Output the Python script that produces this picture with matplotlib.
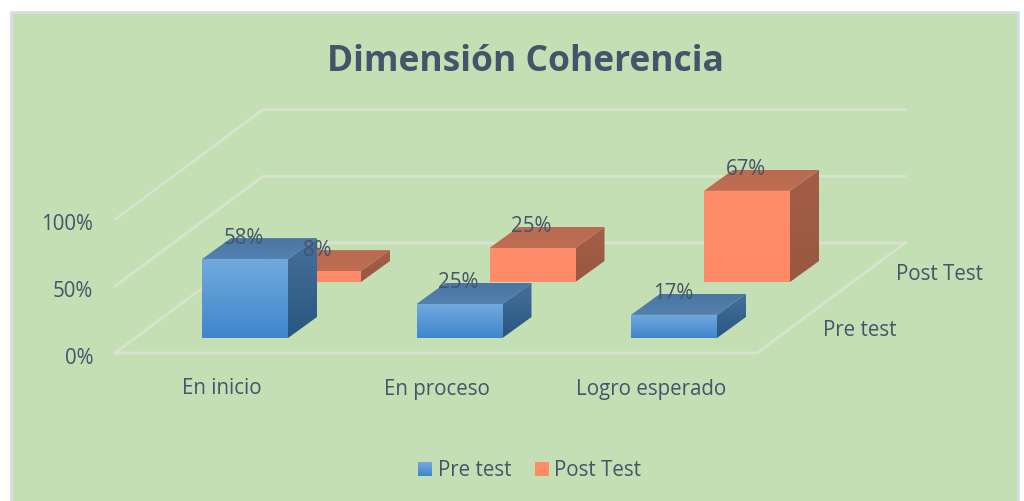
import numpy as np
import matplotlib
matplotlib.use('Agg')
import matplotlib.pyplot as plt
from matplotlib.patches import Polygon, Rectangle

categories = ['En inicio', 'En proceso', 'Logro esperado']
series_names = ['Pre test', 'Post Test']
pre_test = [58, 25, 17]
post_test = [8, 25, 67]
value_ticks = [0, 50, 100]

plt.rcParams['font.family'] = ['Open Sans', 'DejaVu Sans']

BG = '#C5DFB4'
GRID = '#D7E3CE'
TEXT = '#44546A'
FS = 14.8

# oblique projection of the 3d box, pixels of the picture
X0, Y0 = 115, 353
PX_PER_PCT = 1.36
CAT_STEP = 214.5
FIRST_BAR = 87
BAR_W = 86
ROW_DX, ROW_DY = 73, -56
ROW0_DX, ROW0_DY = 0, -15
DEPTH_DX, DEPTH_DY = 29, -21
FLOOR_W = 642
FLOOR_DX, FLOOR_DY = 148, -110
GRID_PX = 1.335


def project(x, row, val):
    # x in px along the front edge, row = series index, val in percent
    return (X0 + x + ROW0_DX + row * ROW_DX,
            Y0 + ROW0_DY + row * ROW_DY - val * PX_PER_PCT)


def gradient_poly(ax, pts, c_top, c_bot, zorder):
    pts = np.array(pts)
    x0, x1 = pts[:, 0].min(), pts[:, 0].max()
    y0, y1 = pts[:, 1].min(), pts[:, 1].max()
    t = np.linspace(0, 1, 64)[:, None]
    a = np.array(matplotlib.colors.to_rgb(c_top))
    b = np.array(matplotlib.colors.to_rgb(c_bot))
    img = (a + (b - a) * t)[:, None, :]
    im = ax.imshow(img, extent=(x0, x1, y1, y0), aspect='auto', zorder=zorder, interpolation='bilinear')
    p = Polygon(pts, closed=True, transform=ax.transData, fc='none', ec='none')
    ax.add_patch(p)
    im.set_clip_path(p)


def draw_bar(ax, x, row, val, cols, zorder):
    l = project(x, row, 0)[0]
    r = l + BAR_W
    bot = project(x, row, 0)[1]
    top = project(x, row, val)[1]
    front = [(l, top), (r, top), (r, bot), (l, bot)]
    side = [(r, top), (r + DEPTH_DX, top + DEPTH_DY), (r + DEPTH_DX, bot + DEPTH_DY), (r, bot)]
    lid = [(l, top), (l + DEPTH_DX, top + DEPTH_DY), (r + DEPTH_DX, top + DEPTH_DY), (r, top)]
    gradient_poly(ax, side, cols['side'][0], cols['side'][1], zorder)
    gradient_poly(ax, lid, cols['lid'][0], cols['lid'][1], zorder + 0.1)
    gradient_poly(ax, front, cols['front'][0], cols['front'][1], zorder + 0.2)


fig = plt.figure(figsize=(10.24, 5.01), dpi=100)
ax = fig.add_axes([0, 0, 1, 1])
ax.set_xlim(0, 1024)
ax.set_ylim(501, 0)
ax.axis('off')

ax.add_patch(Rectangle((11, 12), 1007, 495, fc=BG, ec='#D9DEE3', lw=2, zorder=0))

# floor and back wall lines
for v in value_ticks:
    y = Y0 - v * GRID_PX
    ax.plot([X0, X0 + FLOOR_DX, X0 + FLOOR_DX + FLOOR_W],
            [y, y + FLOOR_DY, y + FLOOR_DY], color=GRID, lw=2, zorder=1)
    ax.text(93, y + 5, f'{v}%', ha='right', va='center', fontsize=FS, color=TEXT, zorder=8)
ax.plot([X0, X0 + FLOOR_W, X0 + FLOOR_W + FLOOR_DX],
        [Y0, Y0, Y0 + FLOOR_DY], color=GRID, lw=2, zorder=1)

blue = {'front': ('#72A9DE', '#3F86CB'), 'side': ('#46709C', '#28577F'), 'lid': ('#4A76A3', '#5481AE')}
orange = {'front': ('#FF8E6C', '#FF8A66'), 'side': ('#A35E47', '#9A5840'), 'lid': ('#B96A50', '#BF6E53')}

for i in range(len(categories)):
    x = FIRST_BAR + i * CAT_STEP
    draw_bar(ax, x, 1, post_test[i], orange, 2)
for i in range(len(categories)):
    x = FIRST_BAR + i * CAT_STEP
    draw_bar(ax, x, 0, pre_test[i], blue, 3)

for i in range(len(categories)):
    x = FIRST_BAR + i * CAT_STEP
    px, py = project(x, 0, pre_test[i])
    ax.text(px + 42, py - 21, f'{pre_test[i]}%', ha='center', va='center', fontsize=FS, color=TEXT, zorder=8)
    px, py = project(x, 1, post_test[i])
    ax.text(px + 42, py - 21, f'{post_test[i]}%', ha='center', va='center', fontsize=FS, color=TEXT, zorder=8)
    ax.text(222 + i * CAT_STEP + (0 if i == 1 else 0 if i == 2 else 0), 389, categories[i],
            ha='center', va='center', fontsize=FS, color=TEXT, zorder=8)

ax.text(823, 331, series_names[0], ha='left', va='center', fontsize=FS, color=TEXT, zorder=8)
ax.text(896, 275, series_names[1], ha='left', va='center', fontsize=FS, color=TEXT, zorder=8)

ax.text(525, 62, 'Dimensión Coherencia', ha='center', va='center', fontsize=25.5, fontweight='bold', color=TEXT, zorder=8)

# legend
gradient_poly(ax, [(418, 462), (432, 462), (432, 476), (418, 476)], '#72A9DE', '#3F86CB', 8)
ax.text(438, 471, series_names[0], ha='left', va='center', fontsize=FS, color=TEXT, zorder=8)
gradient_poly(ax, [(535, 462), (549, 462), (549, 476), (535, 476)], '#FF8E6C', '#FF8A66', 8)
ax.text(554, 471, series_names[1], ha='left', va='center', fontsize=FS, color=TEXT, zorder=8)

ax.set_xlim(0, 1024)
ax.set_ylim(501, 0)
fig.savefig('out.png', dpi=100)
